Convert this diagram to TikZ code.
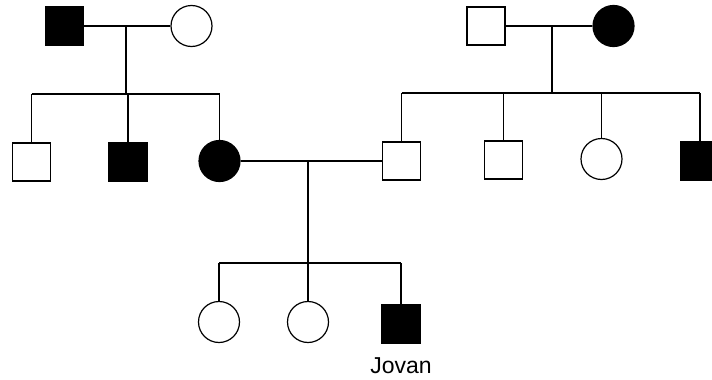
\documentclass[tikz,border=0pt]{standalone}
\usepackage{fontspec}
\setmainfont{Liberation Sans}
\usetikzlibrary{positioning}

\begin{document}
\begin{tikzpicture}[x=1pt, y=-1pt,
    male/.style={draw, rectangle, minimum size=38pt, inner sep=0pt, line width=1.2pt},
    female/.style={draw, circle, minimum size=41pt, inner sep=0pt, line width=1.2pt},
    aff/.style={fill=black},
    ln/.style={line width=1.2pt},
    lbl/.style={font=\fontsize{23}{27}\selectfont, inner sep=0pt}
]
\useasboundingbox (0,0) rectangle (712,380);

% generation I
\node[male, aff] (gf1) at (64.5,26) {};
\node[female] (gm1) at (191.5,26) {};
\node[male] (gf2) at (486,26) {};
\node[female, aff] (gm2) at (613.5,26) {};

% generation II
\node[male] (s1) at (31.5,162) {};
\node[male, aff] (s2) at (128,162) {};
\node[female, aff] (mo) at (219.5,161) {};
\node[male] (fa) at (401.5,161) {};
\node[male] (s3) at (503.5,160) {};
\node[female] (s4) at (601.5,159) {};
\node[male, aff] (s5) at (700,161) {};

% generation III
\node[female] (d1) at (219,322) {};
\node[female] (d2) at (308,322) {};
\node[male, aff] (jov) at (401,324) {};
\node[lbl, below=14pt of jov] (name) {Jovan};

% marriages
\coordinate (m1) at (126,26);
\coordinate (k1) at (126,94);
\coordinate (m2) at (552,26);
\coordinate (k2) at (552,93);
\coordinate (m3) at (308,161);
\coordinate (k3) at (308,263);

\draw[ln] (gf1) -- (gm1);
\draw[ln] (gf2) -- (gm2);
\draw[ln] (mo) -- (fa);
\draw[ln] (m1) -- (k1);
\draw[ln] (m2) -- (k2);
\draw[ln] (m3) -- (k3);

% sibships
\draw[ln] (s1.north |- k1) -- (mo.north |- k1);
\draw[ln] (fa.north |- k2) -- (s5.north |- k2);
\draw[ln] (d1.north |- k3) -- (jov.north |- k3);
\foreach \c in {s1,s2,mo}
  \draw[ln] (\c.north |- k1) -- (\c.north);
\foreach \c in {fa,s3,s4,s5}
  \draw[ln] (\c.north |- k2) -- (\c.north);
\foreach \c in {d1,d2,jov}
  \draw[ln] (\c.north |- k3) -- (\c.north);
\end{tikzpicture}
\end{document}
